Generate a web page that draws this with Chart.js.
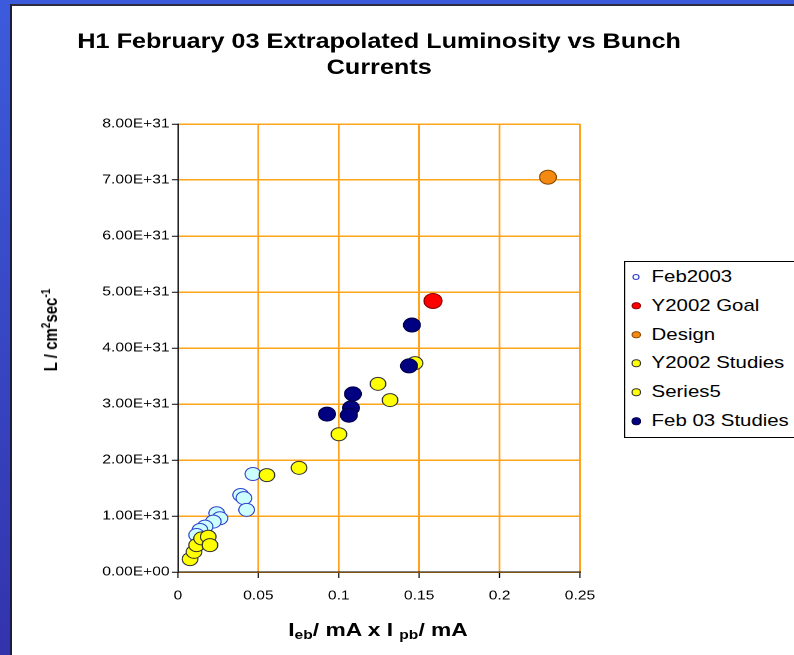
<!DOCTYPE html>
<html>
<head>
<meta charset="utf-8">
<script src="https://cdn.jsdelivr.net/npm/chart.js@4/dist/chart.umd.min.js"></script>
<style>
  html, body { margin: 0; padding: 0; width: 794px; height: 655px; overflow: hidden; }
  body { background: linear-gradient(#3c5bdc, #3333ac); position: relative; }
  .panel {
    position: absolute; left: 10px; top: 4px; width: 900px; height: 800px;
    background: #fff; border-left: 2px solid #1c1c3c; border-top: 2px solid #2c2c3c;
  }
  #wrap {
    position: absolute; left: 0; top: 0; width: 662px; height: 655px;
    transform: scaleX(1.2); transform-origin: 0 0;
    font-family: 'Liberation Sans', Arial, sans-serif; color: #000;
  }
  #chart { position: absolute; left: 0; top: 0; }
  #legend {
    position: absolute; left: 520px; top: 261px; width: 170px; height: 175px;
    border: 1px solid #000; background: #fff;
  }
  .item { position: absolute; left: 0; height: 28px; line-height: 28px; font-size: 17px; white-space: nowrap; }
  .mark { position: absolute; top: 50%; border-radius: 50%; transform: translate(-50%, -50%); box-sizing: border-box; }
  .item span.txt { position: absolute; left: 22px; }
  .xtitle {
    position: absolute; left: 165px; width: 300px; top: 620px; text-align: center;
    font-size: 19px; font-weight: bold; line-height: 19px; white-space: nowrap;
  }
  .xtitle sub { font-size: 13px; vertical-align: -3px; line-height: 0; }
  .ytitle {
    position: absolute; left: 41.7px; top: 330px; font-size: 15px; font-weight: bold;
    line-height: 1; white-space: nowrap; transform: translate(-50%, -50%) rotate(-90deg);
  }
  .ytitle sup { font-size: 10px; line-height: 0; vertical-align: 6px; }
</style>
</head>
<body>
<div class="panel"></div>
<div id="wrap">
  <canvas id="chart" width="632" height="655"></canvas>
  <div id="legend"></div>
  <div class="ytitle">L / cm<sup>2</sup>sec<sup>-1</sup></div>
  <div class="xtitle">I<sub>eb</sub>/ mA x I <sub>pb</sub>/ mA</div>
</div>
<script>
// valeurs (x en mA², y en cm^-2 s^-1)
const seriesNames = ['Feb2003', 'Y2002 Goal', 'Design', 'Y2002 Studies', 'Series5', 'Feb 03 Studies'];

const feb2003 = [
    [0.0466, 1.75e31], [0.039, 1.375e31], [0.041, 1.32e31], [0.0427, 1.11e31],
    [0.0241, 1.05e31], [0.0261, 0.96e31], [0.022, 0.90e31], [0.0168, 0.81e31],
    [0.0137, 0.75e31], [0.0116, 0.66e31]
];
const y2002Goal = [[0.1586, 4.84e31]];
const design = [[0.2301, 7.05e31]];
const y2002Studies = [
    [0.0553, 1.73e31], [0.0753, 1.86e31], [0.1001, 2.46e31],
    [0.1244, 3.36e31], [0.1319, 3.07e31], [0.1474, 3.73e31]
];
const series5 = [
    [0.0075, 0.23e31], [0.010, 0.36e31], [0.0116, 0.48e31],
    [0.0147, 0.60e31], [0.0188, 0.63e31], [0.0199, 0.48e31]
];
const feb03Studies = [
    [0.1455, 4.41e31], [0.1437, 3.68e31], [0.1088, 3.18e31],
    [0.1076, 2.93e31], [0.1063, 2.80e31], [0.0927, 2.82e31]
];

const xTickLabels = ['0', '0.05', '0.1', '0.15', '0.2', '0.25'];
const yTickLabels = ['0.00E+00', '1.00E+31', '2.00E+31', '3.00E+31', '4.00E+31',
    '5.00E+31', '6.00E+31', '7.00E+31', '8.00E+31'];

// styles
const allSeries = [feb2003, y2002Goal, design, y2002Studies, series5, feb03Studies];
const fills = ['#ccffff', '#ff0000', '#f58a12', '#ffff00', '#ffff00', '#000080'];
const borders = ['#3344cc', '#8a0000', '#8a4a00', '#333333', '#333333', '#00004a'];
const radii = [6.5, 7.5, 7, 6.5, 6.5, 7];
const orders = [6, 3, 2, 4, 5, 1];
const legendSizes = [6, 7.5, 7.5, 7.5, 7.5, 7.5];

Chart.defaults.font.family = "'Liberation Sans', Arial, sans-serif";
Chart.defaults.color = '#000';

const datasets = allSeries.map((pts, i) => ({
    label: seriesNames[i],
    data: pts.map(([x, y]) => ({ x, y })),
    backgroundColor: fills[i],
    borderColor: borders[i],
    borderWidth: 1,
    pointRadius: radii[i],
    pointHoverRadius: radii[i],
    order: orders[i]
}));

new Chart(document.getElementById('chart'), {
    type: 'scatter',
    data: { datasets },
    options: {
        responsive: false,
        animation: false,
        devicePixelRatio: 2,
        layout: { padding: { left: 0, right: 0, top: 0, bottom: 43 } },
        plugins: {
            legend: { display: false },
            tooltip: { enabled: false },
            title: {
                display: true,
                text: ['H1 February 03 Extrapolated Luminosity vs Bunch', 'Currents'],
                color: '#000',
                font: { size: 21, weight: 'bold', lineHeight: 1.25 },
                padding: { top: 29, bottom: 42.5 }
            }
        },
        scales: {
            x: {
                type: 'linear',
                min: 0,
                max: 0.25,
                ticks: {
                    stepSize: 0.05,
                    maxRotation: 0,
                    padding: 10,
                    font: { size: 13 },
                    callback: (v, i) => xTickLabels[i]
                },
                grid: { color: '#ffa31a', lineWidth: 1.5, tickLength: 6, tickColor: '#000', tickWidth: 1 },
                border: { color: '#000', width: 1 },
                afterFit: s => { s.height = 40; }
            },
            y: {
                min: 0,
                max: 8e31,
                ticks: {
                    stepSize: 1e31,
                    padding: 2,
                    font: { size: 13 },
                    callback: (v, i) => yTickLabels[i]
                },
                grid: { color: '#ffa31a', lineWidth: 1.5, tickLength: 5, tickColor: '#000', tickWidth: 1 },
                border: { color: '#222', width: 1 },
                afterFit: s => { s.width = 148.3; }
            },
            // axe vide à droite : réserve la place de la légende
            yRight: {
                position: 'right',
                ticks: { display: false },
                grid: { display: false, drawTicks: false },
                border: { display: false },
                afterFit: s => { s.width = 148.7; }
            }
        }
    }
});

// Légende
const legend = document.getElementById('legend');
seriesNames.forEach((name, i) => {
    const row = document.createElement('div');
    row.className = 'item';
    row.style.top = (1 + i * 28.8) + 'px';
    row.style.width = '100%';

    const mark = document.createElement('span');
    mark.className = 'mark';
    mark.style.left = '9px';
    mark.style.width = legendSizes[i] + 'px';
    mark.style.height = legendSizes[i] + 'px';
    mark.style.background = i === 0 ? '#fff' : fills[i];
    mark.style.border = '1.5px solid ' + borders[i];

    const txt = document.createElement('span');
    txt.className = 'txt';
    txt.textContent = name;

    row.appendChild(mark);
    row.appendChild(txt);
    legend.appendChild(row);
});
</script>
</body>
</html>
